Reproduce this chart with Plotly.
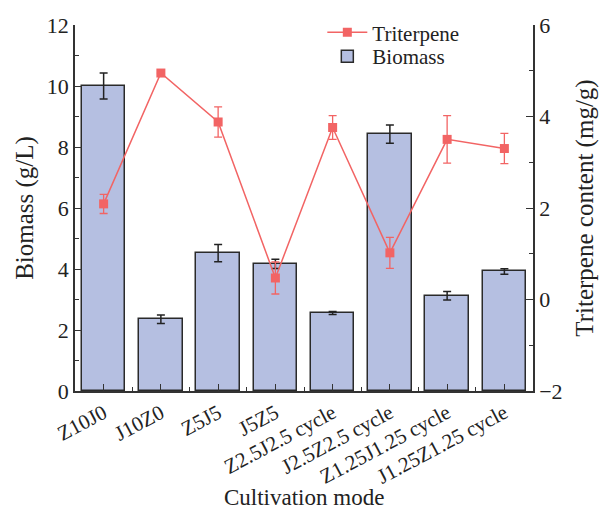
import plotly.graph_objects as go

categories = ["Z10J0", "J10Z0", "Z5J5", "J5Z5", "Z2.5J2.5 cycle",
              "J2.5Z2.5 cycle", "Z1.25J1.25 cycle", "J1.25Z1.25 cycle"]
biomass = [10.0, 2.35, 4.52, 4.17, 2.56, 8.42, 3.12, 3.92]
biomass_err = [0.43, 0.14, 0.28, 0.15, 0.05, 0.30, 0.14, 0.09]
triterpene = [2.09, 4.95, 3.88, 0.47, 3.76, 1.02, 3.50, 3.30]
triterpene_err = [0.21, 0.0, 0.33, 0.35, 0.26, 0.34, 0.52, 0.33]

xs = list(range(len(categories)))
FONT = "Liberation Serif"
RED = "#f26464"

fig = go.Figure()
fig.add_trace(go.Bar(
    x=xs, y=biomass, name="Biomass", width=0.76,
    marker=dict(color="#b5bfe1", line=dict(color="#2a2a2a", width=1.5)),
    error_y=dict(type="data", array=biomass_err, color="#222222",
                 thickness=1.5, width=4),
    legend="legend2",
))
fig.add_trace(go.Scatter(
    x=xs, y=triterpene, name="Triterpene", yaxis="y2",
    mode="lines+markers",
    line=dict(color=RED, width=1.5),
    marker=dict(symbol="square", size=9, color=RED),
    error_y=dict(type="data", array=triterpene_err, color=RED,
                 thickness=1.3, width=4),
    legend="legend",
))

axis_common = dict(showline=True, linecolor="#333333", linewidth=1.5,
                   ticks="inside", ticklen=7, tickwidth=1.3, tickcolor="#333333",
                   showgrid=False, zeroline=False, automargin=False,
                   tickfont=dict(family=FONT, size=22, color="#222222"))

leg_common = dict(xanchor="left", yanchor="top", bgcolor="rgba(0,0,0,0)",
                  font=dict(family=FONT, size=21, color="#222222"),
                  itemwidth=40)

fig.update_layout(
    width=606, height=509,
    margin=dict(l=75, r=73, t=21, b=118),
    paper_bgcolor="white", plot_bgcolor="white",
    font=dict(family=FONT, size=22, color="#222222"),
    bargap=0,
    showlegend=True,
    legend=dict(x=0.54, y=1.035, **leg_common),
    legend2=dict(x=0.54, y=0.970, **leg_common),
    xaxis=dict(**axis_common, range=[-0.5, len(categories) - 0.5],
               tickmode="array", tickvals=xs, ticktext=categories,
               tickangle=-28,
               minor=dict(tickmode="array",
                          tickvals=[i + 0.5 for i in xs[:-1]],
                          ticks="inside", ticklen=4, tickcolor="#333333")),
    yaxis=dict(**axis_common, range=[0, 12], dtick=2, tick0=0,
               minor=dict(dtick=1, ticks="inside", ticklen=4, tickcolor="#333333"),
               title=dict(text="Biomass (g/L)", font=dict(family=FONT, size=25),
                          standoff=6)),
    yaxis2=dict(**axis_common, range=[-2, 6], dtick=2, tick0=0,
                overlaying="y", side="right",
                minor=dict(dtick=1, ticks="inside", ticklen=4, tickcolor="#333333"),
                title=dict(text="Triterpene content (mg/g)",
                           font=dict(family=FONT, size=25), standoff=14)),
    annotations=[dict(text="Cultivation mode", xref="paper", yref="paper",
                      x=0.5, y=-0.292, xanchor="center", yanchor="middle",
                      showarrow=False, font=dict(family=FONT, size=23,
                                                 color="#222222"))],
)
fig.update_xaxes(tickfont=dict(size=21))

fig.write_html("out.html")
